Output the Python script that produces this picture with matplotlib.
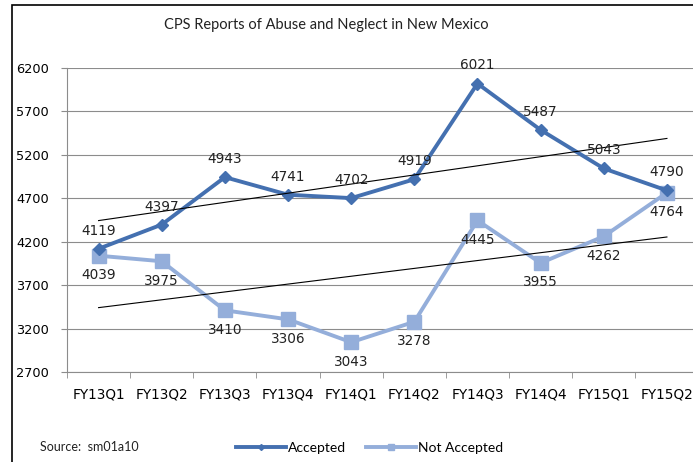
import numpy as np
import matplotlib
matplotlib.use("Agg")
import matplotlib.pyplot as plt
from matplotlib.lines import Line2D
from matplotlib.patches import Rectangle

categories = ["FY13Q1", "FY13Q2", "FY13Q3", "FY13Q4", "FY14Q1",
              "FY14Q2", "FY14Q3", "FY14Q4", "FY15Q1", "FY15Q2"]
accepted = [4119, 4397, 4943, 4741, 4702, 4919, 6021, 5487, 5043, 4790]
not_accepted = [4039, 3975, 3410, 3306, 3043, 3278, 4445, 3955, 4262, 4764]
yticks = [2700, 3200, 3700, 4200, 4700, 5200, 5700, 6200]

plt.rcParams['font.family'] = ['Lato', 'DejaVu Sans']
lab_font = ['DejaVu Sans']

W, H = 693, 462
fig = plt.figure(figsize=(W / 100, H / 100), dpi=100)

# outer chart frame
fig.patches.append(Rectangle((12 / W, -0.1), 1.2, 1 - 5 / H + 0.1,
                             transform=fig.transFigure, fill=False,
                             edgecolor='black', linewidth=1.2))

ax = fig.add_axes([67 / W, (H - 372) / H, (698.5 - 67) / W, (372 - 68) / H])

c_acc = '#4470B0'
c_not = '#94AEDA'
x = np.arange(len(categories))

ax.plot(x, accepted, color=c_acc, lw=2.8, marker='D', ms=6.5,
        zorder=4, label='Accepted')
ax.plot(x, not_accepted, color=c_not, lw=2.8, marker='s', ms=9.5,
        zorder=3, label='Not Accepted')

# linear trendlines
for series in (accepted, not_accepted):
    k, b = np.polyfit(x, series, 1)
    ax.plot(x, k * x + b, color='black', lw=0.8, zorder=5)

for xi, v in zip(x, accepted):
    ax.annotate(str(v), (xi, v), xytext=(0, 13), textcoords='offset points',
                ha='center', va='center', fontsize=9.8, color='#222222',
                family=lab_font, zorder=6)
for xi, v in zip(x, not_accepted):
    ax.annotate(str(v), (xi, v), xytext=(0, -14), textcoords='offset points',
                ha='center', va='center', fontsize=9.8, color='#222222',
                family=lab_font, zorder=6)

ax.set_xlim(-0.5, len(categories) - 0.5)
ax.set_ylim(2700, 6200)
ax.set_yticks(yticks)
ax.set_yticklabels([str(t) for t in yticks], fontsize=9.3, family=lab_font)
ax.set_xticks(x)
ax.set_xticklabels(categories, fontsize=9.8, family=lab_font)
ax.set_xticks(np.arange(len(categories) + 1) - 0.5, minor=True)
ax.tick_params(axis='x', which='major', length=0, pad=11)
ax.tick_params(axis='x', which='minor', length=4, color='#8C8C8C', direction='out')
ax.tick_params(axis='y', length=4, color='#8C8C8C', pad=9)
ax.yaxis.grid(True, color='#8C8C8C', lw=0.8)
ax.set_axisbelow(True)
for s in ('top', 'right'):
    ax.spines[s].set_visible(False)
for s in ('left', 'bottom'):
    ax.spines[s].set_color('#8C8C8C')
    ax.spines[s].set_linewidth(0.8)

fig.text(326 / W, 1 - 25 / H, 'CPS Reports of Abuse and Neglect in New Mexico',
         ha='center', va='center', fontsize=10.5, color='#222222')
fig.text(40 / W, 1 - 447 / H, 'Source:  sm01a10', ha='left', va='center',
         fontsize=9, color='#222222')

handles = [Line2D([], [], color=c_acc, lw=2.8, marker='D', ms=3),
           Line2D([], [], color=c_not, lw=2.8, marker='s', ms=5)]
fig.legend(handles, ['Accepted', 'Not Accepted'], loc='center left',
           bbox_to_anchor=(236 / W, 1 - 448 / H), ncol=2, frameon=False,
           borderaxespad=0, borderpad=0, handlelength=3.6, handletextpad=0.15,
           columnspacing=1.4, fontsize=10)

fig.savefig('out.png', dpi=100)
